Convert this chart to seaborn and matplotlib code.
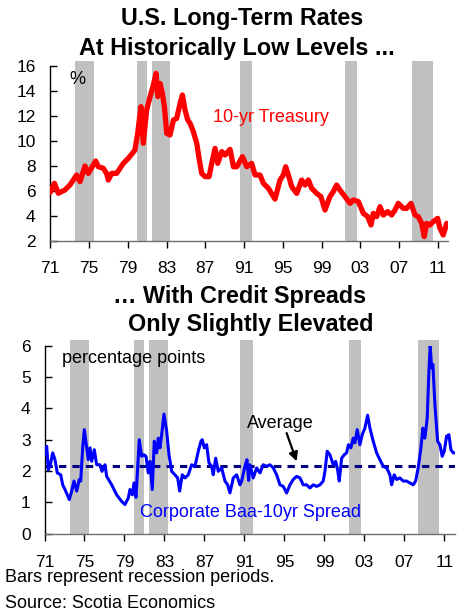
import matplotlib
matplotlib.use("Agg")
import matplotlib.pyplot as plt
import seaborn as sns

# ---- data -------------------------------------------------------------
tsy_year = [1971.0, 1971.42, 1971.83, 1972.5, 1973.03, 1973.72, 1974.07, 1974.58,
            1974.92, 1975.68, 1975.96, 1976.47, 1976.82, 1976.99, 1977.34, 1977.85,
            1978.54, 1979.06, 1979.47, 1979.74, 1980.02, 1980.36, 1980.6, 1980.95,
            1981.29, 1981.64, 1981.92, 1982.09, 1982.33, 1982.57, 1982.78, 1983.02,
            1983.36, 1983.71, 1984.05, 1984.4, 1984.64, 1984.91, 1985.19, 1985.43,
            1985.77, 1986.12, 1986.39, 1986.63, 1986.98, 1987.39, 1987.67, 1988.01,
            1988.29, 1988.7, 1989.04, 1989.56, 1989.91, 1990.25, 1990.84, 1991.28,
            1991.79, 1992.14, 1992.65, 1993.0, 1993.51, 1994.2, 1994.72, 1995.06,
            1995.3, 1995.58, 1995.92, 1996.44, 1996.95, 1997.3, 1997.64, 1997.98,
            1998.5, 1998.94, 1999.36, 1999.87, 2000.21, 2000.56, 2000.9, 2001.42,
            2001.95, 2002.29, 2002.81, 2003.32, 2003.77, 2004.11, 2004.35, 2004.7,
            2005.04, 2005.38, 2005.83, 2006.24, 2006.59, 2006.93, 2007.45, 2007.79,
            2008.24, 2008.65, 2008.99, 2009.34, 2009.61, 2009.85, 2010.2, 2010.54,
            2010.99, 2011.23, 2011.57, 2011.92, 2012.06]
tsy_rate = [5.9, 6.62, 5.82, 6.08, 6.48, 7.28, 6.75, 8.0,
            7.41, 8.4, 7.94, 7.82, 7.4, 6.88, 7.41, 7.41,
            8.21, 8.62, 9.01, 9.28, 10.61, 12.75, 9.81, 12.48,
            13.5, 14.48, 15.41, 13.55, 14.61, 13.81, 12.75, 10.61,
            10.48, 11.68, 11.81, 13.01, 13.68, 12.48, 11.68, 11.41,
            10.75, 9.81, 8.48, 7.41, 7.15, 7.15, 8.21, 9.41,
            8.21, 9.15, 8.88, 9.33, 7.94, 7.94, 8.75, 7.94,
            8.21, 7.28, 7.28, 6.62, 6.22, 5.35, 6.88, 7.28,
            7.94, 7.28, 6.35, 5.81, 6.88, 6.48, 6.88, 6.22,
            5.81, 5.55, 4.48, 5.55, 5.94, 6.48, 6.08, 5.55,
            5.01, 5.28, 5.15, 4.21, 3.95, 3.28, 4.21, 3.95,
            4.75, 4.08, 4.35, 4.08, 4.48, 5.01, 4.61, 4.61,
            5.01, 4.08, 3.95, 3.41, 2.35, 3.41, 3.28, 3.55,
            3.81, 3.01, 2.48, 3.41, 3.15]

spr_year = [1971.05, 1971.22, 1971.38, 1971.55, 1971.82, 1972.05, 1972.28, 1972.62,
            1972.82, 1973.05, 1973.48, 1973.72, 1973.95, 1974.22, 1974.48, 1974.62,
            1974.82, 1974.98, 1975.22, 1975.38, 1975.55, 1975.72, 1975.98, 1976.22,
            1976.55, 1976.75, 1977.05, 1977.22, 1977.72, 1978.22, 1978.72, 1979.05,
            1979.38, 1979.55, 1979.78, 1979.95, 1980.15, 1980.28, 1980.48, 1980.72,
            1980.95, 1981.15, 1981.38, 1981.55, 1981.78, 1981.98, 1982.22, 1982.38,
            1982.55, 1982.72, 1982.95, 1983.22, 1983.45, 1983.72, 1984.05, 1984.32,
            1984.52, 1984.78, 1985.05, 1985.38, 1985.72, 1986.05, 1986.38, 1986.65,
            1986.78, 1986.98, 1987.22, 1987.45, 1987.72, 1987.88, 1988.12, 1988.38,
            1988.72, 1989.05, 1989.32, 1989.55, 1989.88, 1990.22, 1990.55, 1990.72,
            1991.05, 1991.25, 1991.42, 1991.55, 1991.88, 1992.22, 1992.55, 1992.88,
            1993.22, 1993.55, 1993.88, 1994.22, 1994.55, 1994.88, 1995.22, 1995.55,
            1995.88, 1996.22, 1996.55, 1996.88, 1997.22, 1997.55, 1997.88, 1998.22,
            1998.55, 1998.88, 1999.05, 1999.28, 1999.55, 1999.88, 2000.12, 2000.32,
            2000.48, 2000.72, 2000.98, 2001.22, 2001.4, 2001.65, 2001.88, 2002.05,
            2002.28, 2002.55, 2002.78, 2003.05, 2003.32, 2003.55, 2003.88, 2004.22,
            2004.55, 2004.88, 2005.22, 2005.55, 2005.72, 2005.98, 2006.22, 2006.55,
            2006.88, 2007.22, 2007.55, 2007.88, 2008.12, 2008.38, 2008.65, 2008.85,
            2009.05, 2009.28, 2009.45, 2009.58, 2009.72, 2009.85, 2010.05, 2010.32,
            2010.55, 2010.78, 2010.98, 2011.22, 2011.45, 2011.65, 2011.88, 2012.05]
spr_value = [2.52, 2.79, 2.04, 2.15, 2.58, 2.36, 1.94, 1.88,
             1.56, 1.41, 1.09, 1.36, 1.68, 1.36, 1.73, 1.68,
             2.74, 3.32, 2.74, 2.36, 2.74, 2.31, 2.68, 2.2,
             2.2, 1.99, 2.2, 1.83, 1.56, 1.24, 1.03, 0.93,
             1.14, 1.41, 1.24, 1.62, 1.16, 1.88, 3.0, 2.47,
             2.52, 2.47, 1.94, 2.31, 1.41, 2.95, 2.58, 3.05,
             2.74, 3.16, 3.82, 3.27, 2.52, 1.99, 1.88, 1.78,
             1.36, 1.88, 1.78, 1.88, 2.2, 2.15, 2.63, 2.95,
             3.0, 2.74, 2.84, 2.26, 2.15, 1.88, 2.41, 1.99,
             2.1, 1.68, 1.56, 1.3, 1.78, 1.88, 1.56, 1.68,
             2.15, 2.36, 1.7, 2.2, 1.78, 2.1, 1.94, 2.2,
             2.15, 2.2, 2.1, 1.88, 1.56, 1.51, 1.3, 1.56,
             1.73, 1.83, 1.78, 1.56, 1.56, 1.46, 1.56, 1.51,
             1.56, 1.68, 1.99, 2.63, 2.52, 2.2, 2.31, 2.04,
             1.68, 2.41, 2.52, 2.58, 2.84, 2.74, 3.05, 2.9,
             3.32, 2.84, 3.16, 3.37, 3.78, 3.37, 2.95, 2.58,
             2.36, 2.15, 2.1, 1.88, 1.56, 1.88, 1.73, 1.78,
             1.68, 1.68, 1.62, 1.56, 1.68, 2.1, 2.74, 3.37,
             3.05, 3.69, 5.18, 6.01, 5.29, 5.4, 4.12, 2.95,
             2.84, 2.47, 2.63, 3.11, 3.16, 2.68, 2.58, 2.58]
spr_average = 2.17

recession_start = [1973.6, 1979.98, 1981.47, 1990.6, 2001.47, 2008.37]
recession_end = [1975.5, 1981.0, 1983.35, 1991.85, 2002.67, 2010.47]

tick_years = [1971, 1975, 1979, 1983, 1987, 1991, 1995, 1999, 2003, 2007, 2011]
tick_labels = ["71", "75", "79", "83", "87", "91", "95", "99", "03", "07", "11"]
top_yticks = [2, 4, 6, 8, 10, 12, 14, 16]
bottom_yticks = [0, 1, 2, 3, 4, 5, 6]

# ---- style ------------------------------------------------------------
sns.set_theme(style="white")
plt.rcParams["font.family"] = ["Liberation Sans", "DejaVu Sans"]
plt.rcParams["text.color"] = "black"

W, H = 459, 611
fig = plt.figure(figsize=(W / 100, H / 100), dpi=100)
fig.patch.set_facecolor("white")


def box(left, top, right, bottom):
    return [left / W, 1 - bottom / H, (right - left) / W, (bottom - top) / H]


ax1 = fig.add_axes(box(50.3, 66, 448, 241))
ax2 = fig.add_axes(box(44.5, 345.7, 455, 533.7))

XMIN, XMAX = 1971, 2012.06
GREY = "#c0c0c0"
BODY = 13
TICK = 12.5
TITLE = 16.8


def style_axis(ax, yticks, ylim, xpad, ypad):
    for s in ("top", "right"):
        ax.spines[s].set_visible(False)
    ax.spines["left"].set_color("black")
    ax.spines["bottom"].set_color("#6f6f6f")
    for s in ("left", "bottom"):
        ax.spines[s].set_linewidth(1.0)
    ax.set_xlim(XMIN, XMAX)
    ax.set_ylim(*ylim)
    ax.set_xticks(tick_years)
    ax.set_xticklabels(tick_labels)
    ax.set_yticks(yticks)
    ax.set_yticklabels([str(v) for v in yticks])
    ax.tick_params(axis="x", direction="out", length=5, width=1, color="black",
                   pad=xpad, labelsize=TICK, labelcolor="black", bottom=True)
    ax.tick_params(axis="y", direction="in", length=5, width=1, color="black",
                   pad=ypad, labelsize=TICK, labelcolor="black", left=True)
    ax.set_xlabel("")
    ax.set_ylabel("")
    ax.grid(False)
    ax.set_facecolor("white")
    for s, e in zip(recession_start, recession_end):
        ax.axvspan(s, e, ymin=0, ymax=1.03, color=GREY, lw=0, zorder=0,
                   clip_on=False)


# ---- top panel: 10-yr Treasury ---------------------------------------
style_axis(ax1, top_yticks, (2, 16), xpad=9.5, ypad=10.5)
sns.lineplot(x=tsy_year, y=tsy_rate, ax=ax1, color="#ff0000", linewidth=3.8,
             zorder=3)
for ln in ax1.lines:
    ln.set_solid_joinstyle("round")
    ln.set_solid_capstyle("round")
ax1.text(1973.76, 14.96, "%", fontsize=BODY, ha="center", va="center")
ax1.text(1987.8, 11.84, "10-yr Treasury", fontsize=BODY, color="#ff0000",
         ha="left", va="center")

# ---- bottom panel: corporate spread ----------------------------------
style_axis(ax2, bottom_yticks, (0, 6), xpad=10, ypad=10)
ax2.axhline(spr_average, color="#000080", linewidth=2.2, dashes=(2.4, 2.0),
            zorder=2)
sns.lineplot(x=spr_year, y=spr_value, ax=ax2, color="#0000ff", linewidth=2.2,
             zorder=3)
ax2.text(1972.72, 5.58, "percentage points", fontsize=BODY, ha="left",
         va="center")
ax2.text(1991.25, 3.53, "Average", fontsize=BODY, ha="left", va="center")
ax2.annotate("", xy=(1996.22, 2.31), xytext=(1995.22, 3.21),
             arrowprops=dict(arrowstyle="-|>", color="black", lw=1.6,
                             mutation_scale=13, shrinkA=0, shrinkB=0))
ax2.text(1980.55, 0.67, "Corporate Baa-10yr Spread", fontsize=BODY,
         color="#0000ff", ha="left", va="center")

# ---- titles and notes -------------------------------------------------
def ftext(x, y, s, **kw):
    fig.text(x / W, 1 - y / H, s, **kw)


ftext(242, 18, "U.S. Long-Term Rates", fontsize=TITLE, fontweight="bold",
      ha="center", va="center")
ftext(237, 48, "At Historically Low Levels ...", fontsize=TITLE,
      fontweight="bold", ha="center", va="center")
ftext(240, 296, "\u2026 With Credit Spreads", fontsize=TITLE,
      fontweight="bold", ha="center", va="center")
ftext(251, 325, "Only Slightly Elevated", fontsize=TITLE, fontweight="bold",
      ha="center", va="center")
ftext(5, 578, "Bars represent recession periods.", fontsize=BODY, ha="left",
      va="center")
ftext(5, 603, "Source: Scotia Economics", fontsize=BODY, ha="left",
      va="center")

fig.savefig("out.png", dpi=100, facecolor="white")
